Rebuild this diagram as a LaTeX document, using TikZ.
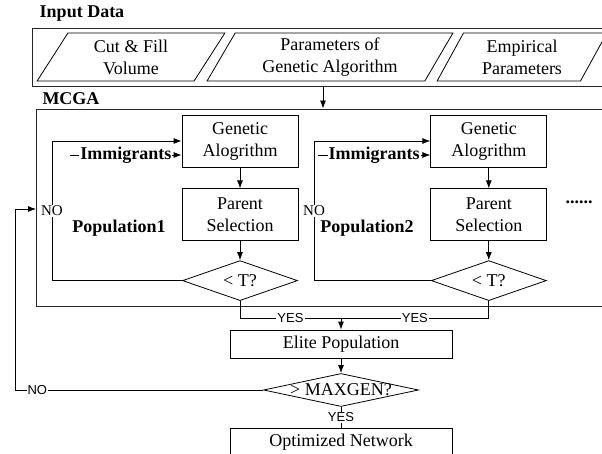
\documentclass[tikz,border=0pt]{standalone}
\usepackage{fontspec}
\setmainfont{Liberation Serif}
\newfontfamily\labelsans{Liberation Sans}
\usetikzlibrary{shapes.geometric, arrows.meta, positioning}
\tikzstyle{every node}=[font=\fontsize{18}{22}\selectfont, inner sep=0pt]
\tikzstyle{frame} = [rectangle, draw=black!85, line width=1pt]
\tikzstyle{inputdata} = [trapezium, trapezium left angle=62.5, trapezium right angle=117.5, trapezium stretches=true, minimum height=48pt, align=center, draw=black]
\tikzstyle{process} = [rectangle, minimum width=116pt, minimum height=52pt, align=center, draw=black]
\tikzstyle{decision} = [diamond, aspect=2.9, minimum width=115pt, minimum height=40pt, draw=black]
\tikzstyle{result} = [rectangle, minimum width=222pt, minimum height=28pt, draw=black]
\tikzstyle{arrow} = [->, >={Latex[length=8pt,width=6pt]}]
\tikzstyle{nolabel} = [font=\fontsize{15}{15}\selectfont, fill=white, inner sep=1pt]
\tikzstyle{yesno} = [font=\labelsans\fontsize{13}{13}\selectfont, fill=white, inner sep=1pt]

\begin{document}
\begin{tikzpicture}[x=1pt, y=-1pt, line width=0.8pt]
\useasboundingbox (0,0) rectangle (602,453);

% input data
\node (intitle) at (82,14) {\bfseries Input Data};
\node (inbox) [frame, minimum width=588pt, minimum height=58pt] at (326,57) {};
\node (cutfill) [inputdata, minimum width=188pt] at (131,57) {Cut \& Fill\\Volume};
\node (gapar) [inputdata, minimum width=246pt] at (330,57) {Parameters of\\Genetic Algorithm};
\node (emppar) [inputdata, minimum width=170pt] at (522,57) {Empirical\\Parameters};

% MCGA
\node (mctitle) at (71,99) {\bfseries MCGA};
\node (mcga) [frame, minimum width=584pt, minimum height=197pt] at (328,207.5) {};
\coordinate (inarr) at (323,86);
\draw [arrow] (inarr) -- (inarr |- mcga.north);

% population 1
\node (ga1) [process] at (240,141) {Genetic\\Alogrithm};
\node (ps1) [process, below=21pt of ga1] {Parent\\Selection};
\node (dec1) [decision, below=19pt of ps1] {< T?};
\node (pop1) at (119,228) {\bfseries Population1};
\draw [arrow] (ga1) -- (ps1);
\draw [arrow] (ps1) -- (dec1);
\coordinate (loop1) at (52,141);
\draw [arrow] (dec1.west) -| (loop1) node[nolabel, pos=0.75] {NO} -- (ga1.west);
\coordinate (imm1) at (70,155);
\draw [arrow] (imm1) -- (ga1.west |- imm1) node[midway, fill=white, inner sep=1pt] {\bfseries Immigrants};

% population 2
\node (ga2) [process, right=132pt of ga1] {Genetic\\Alogrithm};
\node (ps2) [process, below=21pt of ga2] {Parent\\Selection};
\node (dec2) [decision, below=19pt of ps2] {< T?};
\node (pop2) at (367,228) {\bfseries Population2};
\draw [arrow] (ga2) -- (ps2);
\draw [arrow] (ps2) -- (dec2);
\coordinate (loop2) at (314,141);
\draw [arrow] (dec2.west) -| (loop2) node[nolabel, pos=0.75] {NO} -- (ga2.west);
\coordinate (imm2) at (318,155);
\draw [arrow] (imm2) -- (ga2.west |- imm2) node[midway, fill=white, inner sep=1pt] {\bfseries Immigrants};

\node (more) at (579,202) {\bfseries ......};

% elite and stop test
\node (elite) [result] at (341,344) {Elite Population};
\coordinate (merge) at (341,318);
\draw (dec1.south) |- (merge) node[yesno, pos=0.75] {YES};
\draw (dec2.south) |- (merge) node[yesno, pos=0.75] {YES};
\draw [arrow] (merge) -- (elite.north);

\node (maxgen) [decision, minimum width=155pt, minimum height=33pt] at (341,390) {};
\node (maxtext) at (maxgen) {> MAXGEN?};
\draw [arrow] (elite) -- (maxgen);

\node (opt) [result] at (341,442) {Optimized Network};
\draw (maxgen.south) -- (opt.north) node[yesno, midway] {YES};

\coordinate (noturn) at (15,390);
\coordinate (back) at (36,209);
\draw [arrow] (maxgen.west) -- (noturn) node[yesno, pos=0.91] {NO} |- (back);
\end{tikzpicture}
\end{document}
